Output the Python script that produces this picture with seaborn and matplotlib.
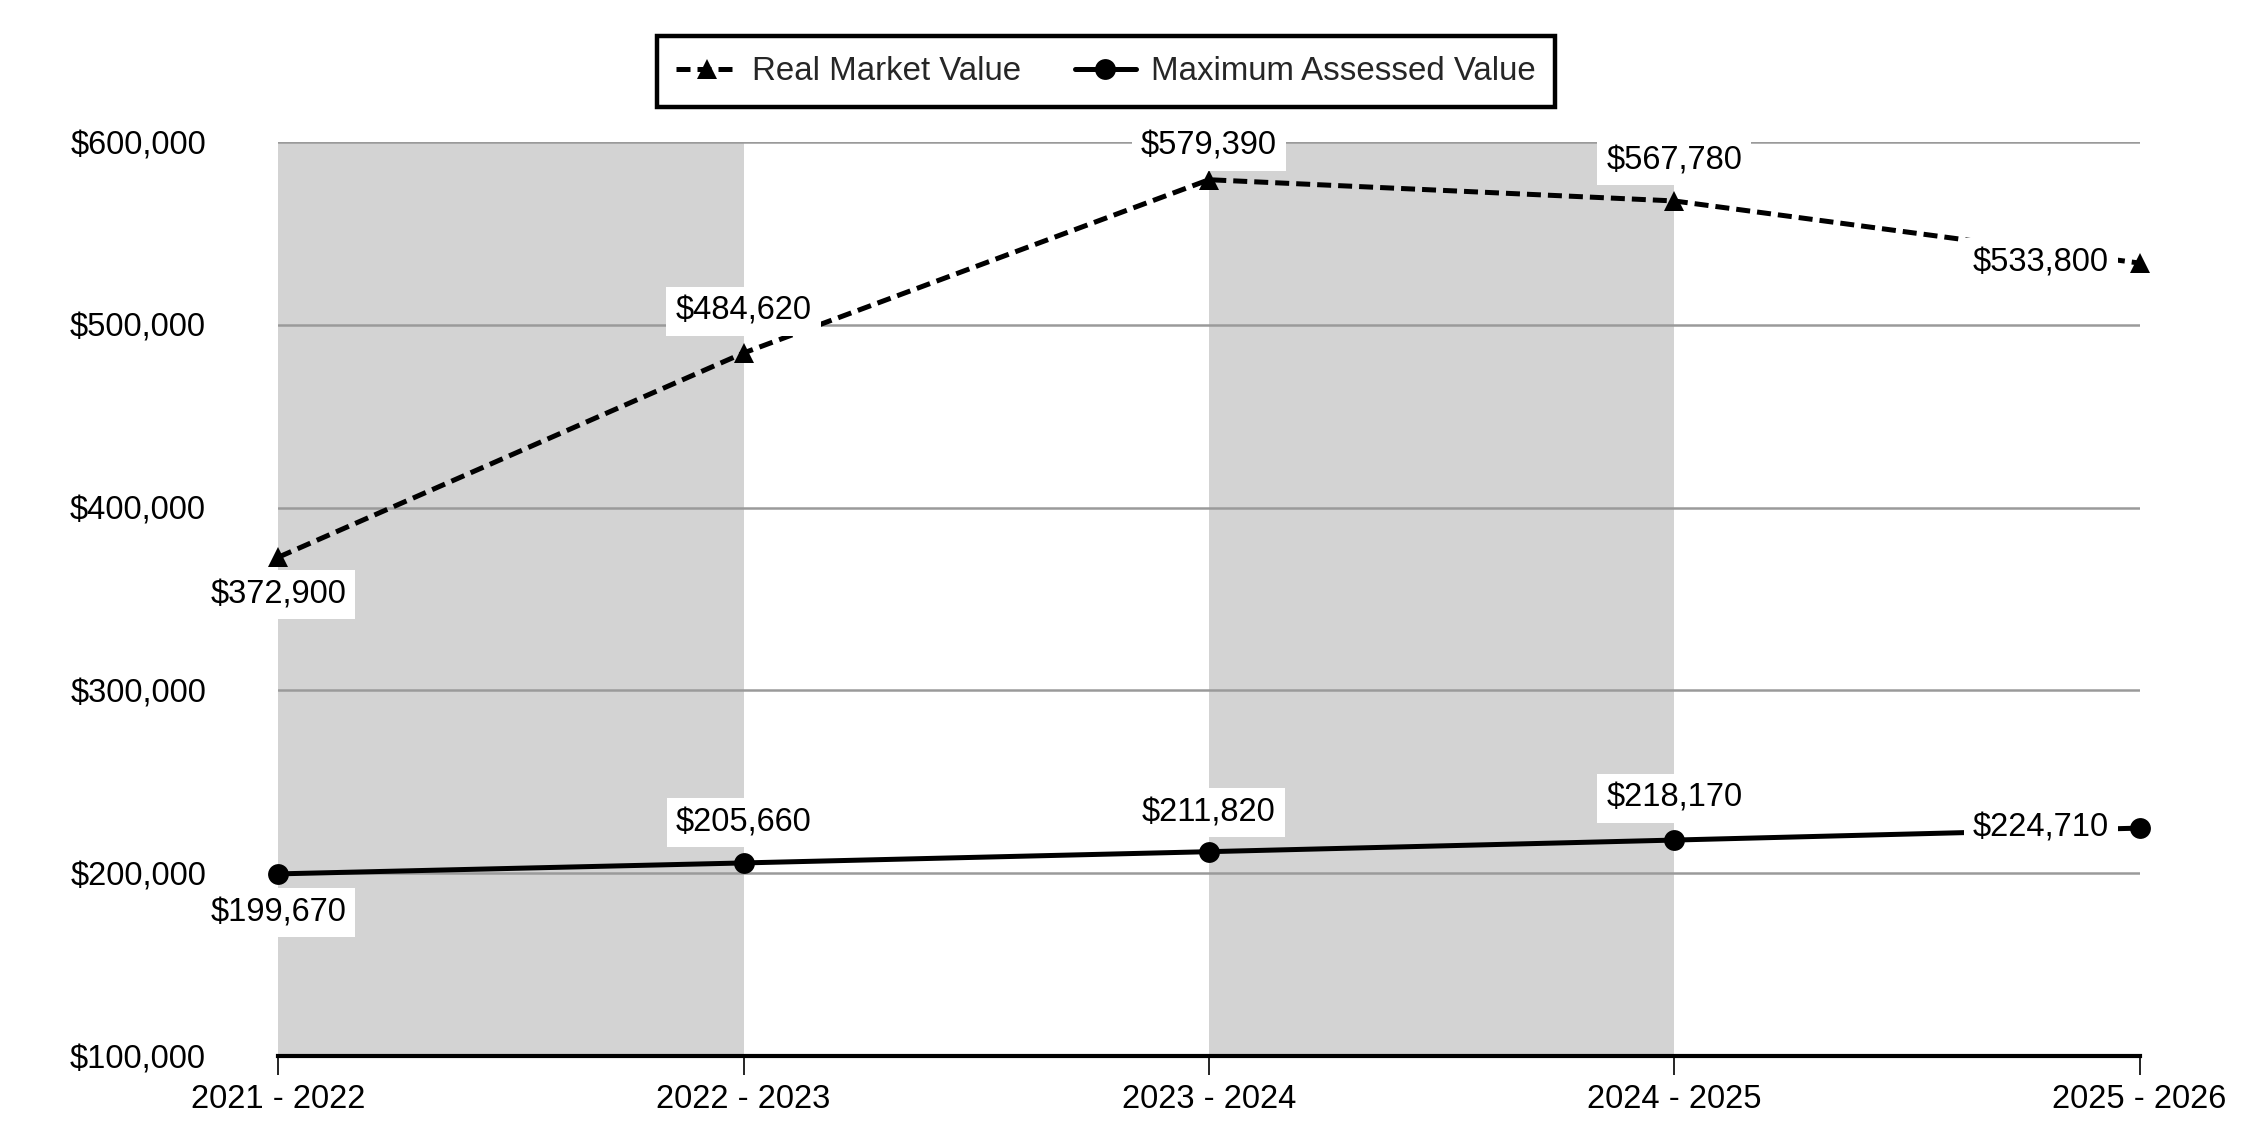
import matplotlib
matplotlib.use("Agg")
import matplotlib.pyplot as plt
import seaborn as sns
import pandas as pd

years = ["2021 - 2022", "2022 - 2023", "2023 - 2024", "2024 - 2025", "2025 - 2026"]
real_market_value = [372900, 484620, 579390, 567780, 533800]
max_assessed_value = [199670, 205660, 211820, 218170, 224710]
y_ticks = [100000, 200000, 300000, 400000, 500000, 600000]

# label placement per point (direction, distance in points)
rmv_label_pos = [("below", 27), ("above", 30), ("above", 24), ("above", 29), ("left", 22)]
mav_label_pos = [("below", 28), ("above", 29), ("above", 28), ("above", 30), ("left", 22)]

sns.set_theme(style="white")
plt.rcParams['font.family'] = ['Liberation Sans', 'DejaVu Sans']

fig = plt.figure(figsize=(22.5, 11.4), dpi=100)
ax = fig.add_axes([0.1237, 0.0736, 0.8272, 0.8018])

df = pd.DataFrame({"year": years, "rmv": real_market_value, "mav": max_assessed_value})

sns.lineplot(data=df, x="year", y="rmv", ax=ax, color="black", linewidth=3.6,
             linestyle=(0, (2.8, 1.4)), marker="^", markersize=15, markeredgewidth=0,
             label="Real Market Value", clip_on=False, zorder=3, sort=False)
sns.lineplot(data=df, x="year", y="mav", ax=ax, color="black", linewidth=3.6,
             linestyle="-", marker="o", markersize=15, markeredgewidth=0,
             label="Maximum Assessed Value", clip_on=False, zorder=3, sort=False)

# alternating shaded bands
for i in range(0, len(years) - 1, 2):
    ax.axvspan(i, i + 1, color="#d3d3d3", zorder=0.2, lw=0)

ax.set_xlim(0, len(years) - 1)
ax.set_ylim(y_ticks[0], y_ticks[-1])
ax.set_yticks(y_ticks)
ax.set_yticklabels([f"${v:,.0f}" for v in y_ticks])
ax.set_axisbelow(True)
ax.yaxis.grid(True, color="#9a9a9a", linewidth=1.8)
ax.xaxis.grid(False)
ax.set_xlabel("")
ax.set_ylabel("")

for s in ["left", "right", "top"]:
    ax.spines[s].set_visible(False)
ax.spines["bottom"].set_color("black")
ax.spines["bottom"].set_linewidth(3)
ax.spines["bottom"].set_zorder(4)

ax.tick_params(axis="y", length=0, pad=52, labelsize=23.5, labelcolor="black")
ax.tick_params(axis="x", length=14, width=1.2, color="black", pad=6,
               labelsize=23.5, labelcolor="black", direction="out", bottom=True)

def place(xi, val, pos):
    where, d = pos
    if where == "above":
        off, ha = (0, d), "center"
    elif where == "below":
        off, ha = (0, -d), "center"
    else:
        off, ha = (-d, 0), "right"
    ax.annotate(f"${val:,.0f}", xy=(xi, val), xytext=off, textcoords="offset points",
                ha=ha, va="center", fontsize=23.5, color="black", zorder=5,
                bbox=dict(boxstyle="square,pad=0.28", fc="white", ec="none"),
                annotation_clip=False)

for i, (v, p) in enumerate(zip(real_market_value, rmv_label_pos)):
    place(i, v, p)
for i, (v, p) in enumerate(zip(max_assessed_value, mav_label_pos)):
    place(i, v, p)

leg = ax.legend(loc="upper center", bbox_to_anchor=(0.4915, 0.968),
                bbox_transform=fig.transFigure, ncol=2, frameon=True, fancybox=False,
                edgecolor="black", framealpha=1, fontsize=23.8, handlelength=1.85,
                columnspacing=1.6, handletextpad=0.45, borderpad=0.6, borderaxespad=0)
leg.get_frame().set_linewidth(3.2)

fig.savefig("out.png", dpi=100)
